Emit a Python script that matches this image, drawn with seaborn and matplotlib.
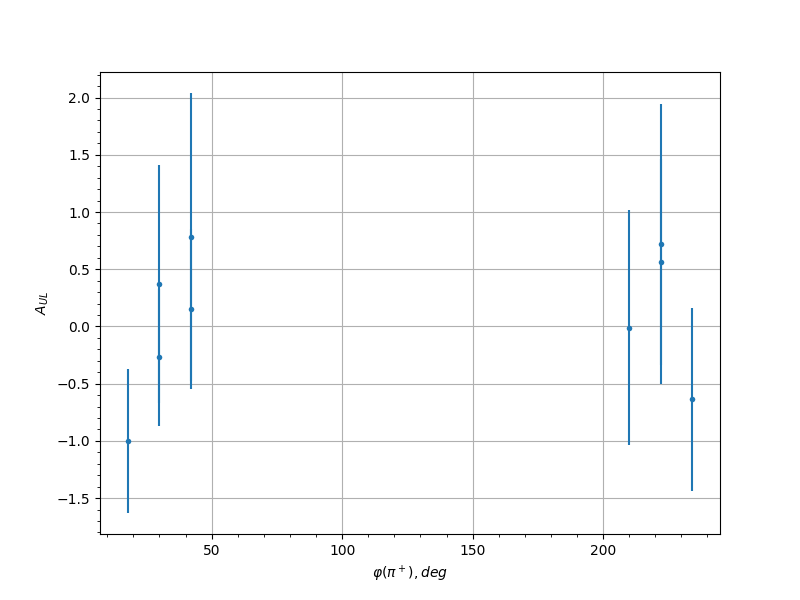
import matplotlib
matplotlib.use("Agg")
import matplotlib.pyplot as plt
import numpy as np
import pandas as pd
import seaborn as sns

# values
phi = [18.0, 30.0, 30.0, 42.0, 42.0, 210.0, 222.0, 222.0, 234.0]
a_ul = [-1.00, 0.37, -0.27, 0.78, 0.155, -0.01, 0.72, 0.56, -0.635]
a_err = [0.63, 1.04, 0.60, 1.26, 0.70, 1.03, 1.22, 0.90, 0.80]

df = pd.DataFrame({"phi": phi, "a_ul": a_ul, "err": a_err})

fig, ax = plt.subplots(figsize=(8, 6), dpi=100)

ax.errorbar(df["phi"], df["a_ul"], yerr=df["err"], fmt="none",
            ecolor="#1f77b4", elinewidth=1.5)
sns.scatterplot(data=df, x="phi", y="a_ul", ax=ax, color="#1f77b4",
                s=16, edgecolor="#1f77b4", linewidth=0, zorder=3)

ax.minorticks_on()
ax.grid(True, which="major", color="#b0b0b0", linewidth=0.8)
ax.set_axisbelow(True)
ax.set_xlabel(r"$\varphi(\pi^+), deg$")
ax.set_ylabel(r"$A_{UL}$")

fig.savefig("out.png", dpi=100)
